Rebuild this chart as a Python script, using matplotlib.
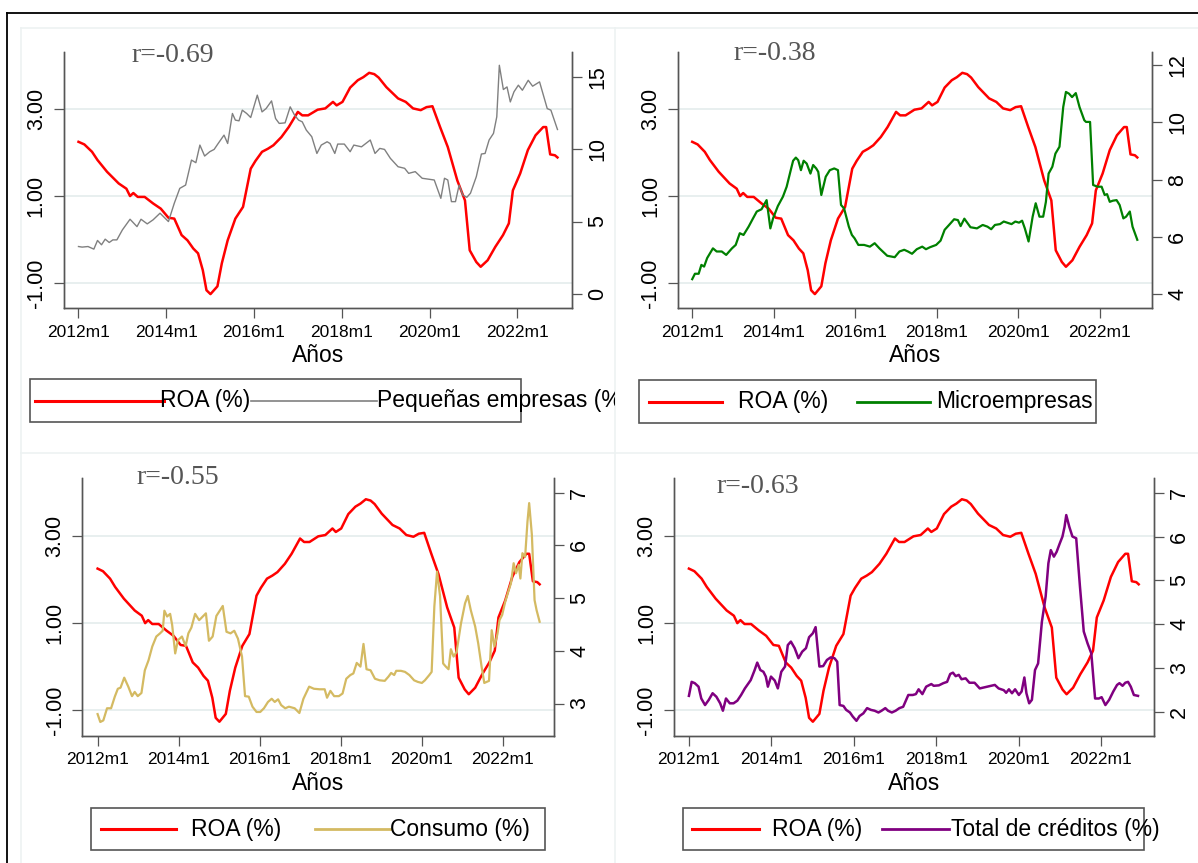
import matplotlib
matplotlib.use('Agg')
import matplotlib.pyplot as plt
from matplotlib.patches import Rectangle
from matplotlib.transforms import Bbox, TransformedBbox

plt.rcParams['font.family'] = ['Liberation Sans', 'DejaVu Sans']

W, H = 1198, 863

# meses desde 2012m1
ticks_x = [0, 24, 48, 72, 96, 120]
etiq_x = ['2012m1', '2014m1', '2016m1', '2018m1', '2020m1', '2022m1']
ticks_roa = [-1, 1, 3]
etiq_roa = ['-1.00', '1.00', '3.00']

roa_mes = [0, 1.6, 3.7, 5.2, 7.8, 11, 13.1, 14.1, 15, 16.2, 18.1, 20.4, 22.5, 24.6, 26.2,
           28.2, 29.8, 31.4, 32.7, 34, 35, 36.1, 38, 39.2, 40.8, 42.9, 45, 47.1, 48.4, 50.2,
           51.8, 53.3, 55.5, 57.5, 60, 61.2, 62.8, 65.4, 67.5, 69.6, 70.6, 72.2, 74.3, 76.4, 77.9,
           79.5, 80.9, 82.1, 84.2, 87.4, 89.5, 91.5, 93.6, 95.2, 96.8, 98.9, 101, 103.6, 105.7, 107,
           108.8, 110, 111.9, 114, 116.1, 117.7, 118.8, 120.8, 122.9, 125, 127.1, 127.9, 129, 130.3, 131]
roa = [2.25, 2.19, 2.02, 1.83, 1.56, 1.29, 1.17, 1.00, 1.07, 0.98, 0.98, 0.83, 0.71, 0.50, 0.48,
       0.10, -0.02, -0.21, -0.32, -0.71, -1.17, -1.26, -1.08, -0.55, -0.02, 0.48, 0.75, 1.63, 1.81, 2.02,
       2.09, 2.17, 2.36, 2.59, 2.94, 2.86, 2.86, 2.99, 3.02, 3.17, 3.09, 3.17, 3.50, 3.67, 3.74,
       3.84, 3.81, 3.73, 3.51, 3.25, 3.17, 3.02, 2.98, 3.05, 3.07, 2.59, 2.13, 1.36, 0.90, -0.25,
       -0.52, -0.63, -0.48, -0.17, 0.10, 0.37, 1.13, 1.52, 2.06, 2.40, 2.59, 2.59, 1.96, 1.94, 1.89]

peq_mes = [0, 1.0, 2.6, 4.2, 5.2, 6.3, 7.3, 8.4, 9.4, 10.5, 12.0, 14.1, 16.0, 17.1, 18.8,
           20.4, 22.3, 24.6, 26.2, 27.7, 29.3, 30.9, 32.1, 33.2, 34.5, 35.9, 37.1, 38.2, 39.8, 40.8,
           42.1, 42.9, 43.9, 44.8, 46.0, 47.1, 48.9, 50.2, 51.3, 52.8, 53.9, 54.9, 56.5, 57.9, 59.1,
           60.2, 61.2, 62.3, 63.8, 65.2, 66.4, 68.0, 68.8, 70.1, 70.9, 72.7, 74.3, 75.3, 77.4, 79.8,
           81.1, 82.4, 83.7, 85.3, 87.4, 89.2, 90.3, 92.1, 94.0, 97.3, 99.1, 100.1, 101.0, 102.0, 103.1,
           104.1, 105.1, 106.2, 107.2, 108.8, 110.2, 111.2, 112.3, 113.5, 114.4, 115.1, 116.2, 117.2, 118.1, 119.1,
           120.3, 121.4, 123.0, 124.2, 126.1, 128.2, 129.2, 131]
pequenas = [3.27, 3.23, 3.27, 3.09, 3.69, 3.39, 3.78, 3.55, 3.73, 3.73, 4.42, 5.16, 4.65, 5.16, 4.84,
            5.12, 5.58, 5.0, 6.27, 7.30, 7.53, 9.26, 9.08, 10.30, 9.54, 9.84, 10.0, 10.41, 10.99, 10.41,
            12.49, 12.03, 11.98, 12.72, 12.49, 12.21, 13.76, 12.60, 12.83, 13.36, 12.14, 11.80, 11.84, 12.95, 12.37,
            12.03, 11.91, 11.34, 10.88, 9.72, 10.30, 10.53, 10.41, 9.72, 10.37, 10.37, 9.84, 10.30, 10.18, 10.65,
            9.72, 10.07, 10.0, 9.38, 8.80, 8.69, 8.34, 8.46, 8.0, 7.88, 6.61, 8.0, 7.88, 6.38, 6.38,
            7.53, 6.84, 6.68, 6.96, 8.11, 9.68, 9.72, 10.65, 11.11, 12.26, 15.83, 14.15, 14.33, 13.29, 13.99,
            14.45, 14.10, 14.79, 14.38, 14.68, 12.83, 12.72, 11.38]

micro_mes = [0, 0.8, 1.9, 2.7, 3.5, 4.4, 6.1, 7.2, 8.7, 10, 11.7, 12.8, 14, 15.1, 16.6,
             17.9, 19, 20.4, 21.9, 23, 23.8, 25.2, 26.7, 27.8, 29, 29.7, 30.5, 31.2, 32, 32.8,
             33.7, 34.8, 35.6, 36.5, 37.1, 38, 39.3, 40.5, 41.8, 42.9, 43.8, 44.7, 46.1, 47, 47.8,
             48.9, 50.6, 52.3, 53.7, 55.1, 57.4, 59.6, 61, 62.4, 63.5, 64.7, 66.1, 67.7, 68.8, 70,
             71.8, 73.1, 74.3, 75.6, 77.1, 78.2, 79, 80.1, 81.9, 83.8, 85.5, 86.9, 88, 89.1, 90.6,
             91.7, 93.2, 94, 95.1, 96.2, 97.1, 97.9, 99, 100.2, 101.1, 102.2, 103.3, 104.1, 104.9, 106,
             106.9, 108.1, 109.2, 110, 110.9, 111.8, 112.9, 114, 115.4, 115.9, 117.1, 118, 119.3, 120.5, 121.4,
             122.1, 122.9, 123.8, 124.9, 125.8, 126.9, 127.7, 128.8, 129.6, 131]
micro = [4.51, 4.70, 4.70, 5.01, 4.95, 5.25, 5.59, 5.48, 5.48, 5.36, 5.59, 5.71, 6.12, 6.06, 6.35,
         6.64, 6.88, 6.96, 7.28, 6.29, 6.64, 7.07, 7.40, 7.75, 8.33, 8.66, 8.77, 8.68, 8.33, 8.66,
         8.56, 8.21, 8.51, 8.39, 8.27, 7.46, 8.10, 8.33, 8.39, 8.33, 7.11, 6.99, 6.35, 6.06, 5.94,
         5.71, 5.71, 5.65, 5.77, 5.59, 5.33, 5.28, 5.48, 5.54, 5.48, 5.40, 5.56, 5.65, 5.56, 5.63,
         5.71, 5.86, 6.24, 6.41, 6.61, 6.58, 6.37, 6.63, 6.33, 6.29, 6.41, 6.35, 6.26, 6.41, 6.44,
         6.53, 6.47, 6.44, 6.53, 6.49, 6.56, 6.29, 5.83, 6.70, 7.17, 6.70, 6.70, 7.22, 8.21, 8.45,
         8.91, 9.15, 10.54, 11.07, 11.01, 10.89, 11.03, 10.54, 10.08, 10.02, 10.02, 7.81, 7.75, 7.75, 7.46,
         7.49, 7.22, 7.26, 7.28, 7.11, 6.64, 6.70, 6.88, 6.35, 5.89]

cons_mes = [0, 0.8, 1.7, 2.8, 4, 5.1, 6, 6.8, 7.9, 9.1, 10.2, 11, 11.9, 13, 14,
            15.1, 16.2, 17.4, 18.5, 19.3, 19.8, 20.6, 21.5, 22.1, 23, 23.8, 25, 26.1, 26.9, 27.8,
            28.9, 30.1, 31.2, 32.1, 33, 34.1, 35.2, 36.3, 37.1, 38.2, 39.4, 40.5, 41.6, 42.8, 43.7,
            44.8, 45.9, 47.1, 48.2, 49.3, 50.5, 51.6, 52.5, 53.5, 54.4, 55.6, 56.7, 58.4, 59.8, 61,
            62.7, 64.1, 65.8, 67.3, 68, 69, 70.1, 71.5, 72.6, 73.7, 74.9, 75.8, 76.8, 77.9, 78.8,
            79.7, 80.9, 82.2, 83.6, 85.1, 86.2, 87, 87.9, 88.5, 89.9, 91.1, 92.4, 93.8, 94.9, 96.1,
            97, 98.3, 99, 99.8, 100.6, 101.5, 102.4, 103.2, 104, 104.7, 105.5, 106.4, 107.7, 108.9, 109.7,
            110.6, 111.9, 112.8, 113.8, 114.6, 115.3, 116, 116.8, 117.6, 118.5, 119.1, 119.9, 120.8, 121.7, 122.5,
            123.3, 124, 124.8, 125.3, 125.9, 126.7, 127.4, 127.9, 128.7, 129.5, 130.1, 131]
consumo = [2.80, 2.65, 2.68, 2.91, 2.91, 3.13, 3.28, 3.30, 3.49, 3.32, 3.14, 3.22, 3.14, 3.20, 3.63,
           3.82, 4.08, 4.27, 4.33, 4.38, 4.76, 4.65, 4.70, 4.49, 3.95, 4.20, 4.27, 4.09, 4.33, 4.44,
           4.70, 4.58, 4.65, 4.71, 4.19, 4.27, 4.66, 4.77, 4.85, 4.36, 4.33, 4.38, 4.23, 3.89, 3.14,
           3.13, 2.94, 2.84, 2.84, 2.91, 3.03, 3.09, 3.03, 3.08, 2.97, 2.91, 2.94, 2.91, 2.82, 3.09,
           3.32, 3.28, 3.27, 3.27, 3.11, 3.24, 3.14, 3.14, 3.19, 3.47, 3.54, 3.57, 3.77, 3.70, 4.13,
           3.65, 3.63, 3.47, 3.44, 3.43, 3.51, 3.58, 3.54, 3.62, 3.62, 3.60, 3.54, 3.44, 3.41, 3.39,
           3.44, 3.54, 3.60, 4.84, 5.50, 5.03, 3.76, 3.70, 3.65, 4.03, 3.89, 3.98, 4.52, 4.90, 5.04,
           4.77, 4.46, 4.14, 3.70, 3.39, 3.41, 3.43, 4.39, 4.08, 4.32, 4.58, 4.68, 4.93, 5.12, 5.28,
           5.66, 5.47, 5.63, 5.37, 5.85, 5.78, 6.45, 6.80, 6.20, 4.96, 4.77, 4.55]

tot_mes = [0, 0.8, 1.7, 2.8, 3.6, 4.7, 5.8, 6.9, 8, 9.1, 9.9, 10.8, 11.9, 13, 14.1,
           15.2, 16.3, 18, 19.1, 19.9, 20.8, 21.7, 22.4, 23, 23.9, 25, 25.9, 26.9, 28, 28.8,
           29.7, 30.8, 31.9, 33, 34.1, 35, 36.1, 36.9, 38, 39.1, 40.2, 41.3, 42.4, 43.2, 43.9,
           45, 45.8, 46.9, 47.7, 48.8, 49.7, 50.8, 51.9, 53, 54.1, 55.2, 56.1, 57.2, 58, 59.1,
           60.2, 61.3, 62.4, 63.9, 65.2, 66.1, 66.9, 68, 69.1, 70.6, 71.3, 72.8, 74.1, 75.2, 76.1,
           76.9, 77.7, 78.6, 79.4, 80.6, 81.7, 83.2, 84.7, 86.3, 88, 89.1, 90.2, 91.7, 92.4, 93.2,
           94.1, 95, 96.1, 96.9, 97.7, 98.3, 99.1, 99.9, 100.8, 101.7, 102.8, 103.9, 104.7, 105.4, 106.3,
           107.1, 108, 108.8, 109.4, 109.9, 110.8, 111.7, 112.8, 113.9, 115, 116.1, 117.2, 118.3, 119.4, 120.2,
           121.3, 122.4, 123.6, 124.7, 125.4, 126.3, 127.1, 127.9, 128.7, 129.6, 130.8]
total = [2.36, 2.68, 2.65, 2.57, 2.30, 2.15, 2.27, 2.42, 2.34, 2.19, 2.02, 2.30, 2.19, 2.19, 2.25,
         2.38, 2.53, 2.72, 2.94, 3.12, 2.95, 2.91, 2.80, 2.57, 2.80, 2.71, 2.53, 2.91, 3.03, 3.52,
         3.60, 3.45, 3.22, 3.37, 3.45, 3.70, 3.79, 3.93, 3.03, 3.04, 3.18, 3.24, 3.22, 3.14, 2.15,
         2.13, 2.04, 1.98, 1.89, 1.79, 1.90, 1.96, 2.08, 2.04, 2.02, 1.98, 2.02, 2.08, 2.02, 1.98,
         2.02, 2.08, 2.11, 2.38, 2.38, 2.40, 2.51, 2.40, 2.57, 2.63, 2.59, 2.60, 2.65, 2.68, 2.86,
         2.89, 2.81, 2.84, 2.74, 2.76, 2.66, 2.66, 2.53, 2.56, 2.59, 2.61, 2.53, 2.49, 2.43, 2.51,
         2.42, 2.51, 2.38, 2.46, 2.78, 2.42, 2.19, 2.27, 2.95, 3.10, 4.05, 4.63, 5.39, 5.69, 5.54,
         5.65, 5.84, 6.00, 6.22, 6.49, 6.22, 6.00, 5.96, 4.85, 3.83, 3.56, 3.33, 2.30, 2.30, 2.33,
         2.15, 2.27, 2.46, 2.61, 2.65, 2.59, 2.66, 2.68, 2.57, 2.38, 2.36]

fig = plt.figure(figsize=(W / 100, H / 100), dpi=100)

# capa en pixeles para marcos, textos r y leyendas (encima de los ejes)
capa = fig.add_axes([0, 0, 1, 1])
capa.set_xlim(0, W)
capa.set_ylim(H, 0)
capa.axis('off')
capa.set_zorder(10)

def caja(l, t, r, b):
    return [l / W, 1 - b / H, (r - l) / W, (b - t) / H]

# marcos
for y in (28, 453):
    capa.plot([21, W], [y, y], color='#edf2f2', lw=1.2)
for x in (21, 615):
    capa.plot([x, x], [28, H], color='#edf2f2', lw=1.2)
capa.plot([6.5, W], [13, 13], color='black', lw=1.3)
capa.plot([6.5, 6.5], [13, H], color='black', lw=1.3)

paneles = [
    dict(pos=(63.5, 52, 572.1, 308), xlim=(-4.1, 135.0), ylim=(-0.99, 16.75), yt=[0, 5, 10, 15],
         x=peq_mes, y=pequenas, color='#808080', lw=1.0, nombre='Pequeñas empresas (%)',
         r='r=-0.69', rpos=(131, 55),
         ley=(30, 379, 521, 422), l1=(35, 164), t1=160, l2=(251, 377), t2=377, clip=615),
    dict(pos=(677.7, 52, 1151.9, 308), xlim=(-4.27, 135.3), ylim=(3.50, 12.47), yt=[4, 6, 8, 10, 12],
         x=micro_mes, y=micro, color='#008000', lw=1.6, nombre='Microempresas',
         r='r=-0.38', rpos=(733, 54),
         ley=(639, 380, 1096, 423), l1=(649, 722), t1=738, l2=(857, 930), t2=936, clip=W),
    dict(pos=(82.3, 478.3, 553.8, 735.7), xlim=(-4.53, 135.2), ylim=(2.39, 7.27), yt=[3, 4, 5, 6, 7],
         x=cons_mes, y=consumo, color='#d4ba62', lw=1.6, nombre='Consumo (%)',
         r='r=-0.55', rpos=(136, 477),
         ley=(91, 808, 545, 850), l1=(101, 176), t1=191, l2=(315, 390), t2=390, clip=615),
    dict(pos=(673.6, 478.3, 1153.8, 735.7), xlim=(-4.46, 135.4), ylim=(1.45, 7.33), yt=[2, 3, 4, 5, 6, 7],
         x=tot_mes, y=total, color='#800080', lw=1.8, nombre='Total de créditos (%)',
         r='r=-0.63', rpos=(716, 486),
         ley=(683, 808, 1144, 850), l1=(692, 759), t1=772, l2=(882, 949), t2=951, clip=W),
]

gris = '#555555'
for p in paneles:
    ax = fig.add_axes(caja(*p['pos']))
    ax.plot(roa_mes, roa, color='red', lw=1.8)
    ax.set_xlim(*p['xlim'])
    ax.set_ylim(-1.58, 4.32)
    ax.set_yticks(ticks_roa)
    ax.set_yticklabels(etiq_roa)
    ax.set_xticks(ticks_x)
    ax.set_xticklabels(etiq_x)
    ax.grid(axis='y', color='#e6eeee', lw=1.3)
    ax.set_axisbelow(True)
    ax.set_xlabel('Años', fontsize=16.5, labelpad=3)

    ax2 = ax.twinx()
    ax2.plot(p['x'], p['y'], color=p['color'], lw=p['lw'])
    ax2.set_ylim(*p['ylim'])
    ax2.set_yticks(p['yt'])

    for a in (ax, ax2):
        a.spines['top'].set_visible(False)
        for s in ('left', 'right', 'bottom'):
            a.spines[s].set_color(gris)
            a.spines[s].set_linewidth(1.0)
        a.tick_params(length=7, width=0.9, color=gris)
    ax.tick_params(axis='x', labelsize=12.5, pad=5)
    ax.tick_params(axis='y', labelsize=15.5, pad=5, labelrotation=90)
    ax2.tick_params(axis='y', labelsize=15.5, pad=4, labelrotation=90)
    for lbl in ax.get_yticklabels() + ax2.get_yticklabels():
        lbl.set_va('center')

    capa.text(p['rpos'][0], p['rpos'][1], p['r'], ha='left', va='center', fontsize=20,
              family='Liberation Serif', color=gris)

    l, t, r, b = p['ley']
    capa.add_patch(Rectangle((l, t), r - l, b - t, fill=False, edgecolor=gris, lw=1.2))
    yc = (t + b) / 2
    capa.plot(p['l1'], [yc, yc], color='red', lw=2.2)
    capa.text(p['t1'], yc, 'ROA (%)', ha='left', va='center', fontsize=16.5)
    capa.plot(p['l2'], [yc, yc], color=p['color'], lw=2.0 if p['lw'] > 1.2 else 1.2)
    txt = capa.text(p['t2'], yc, p['nombre'], ha='left', va='center', fontsize=16.5)
    txt.set_clip_on(True)
    txt.set_clip_box(TransformedBbox(Bbox([[0, 0], [p['clip'], H]]), capa.transData))

fig.savefig('out.png', dpi=100)
